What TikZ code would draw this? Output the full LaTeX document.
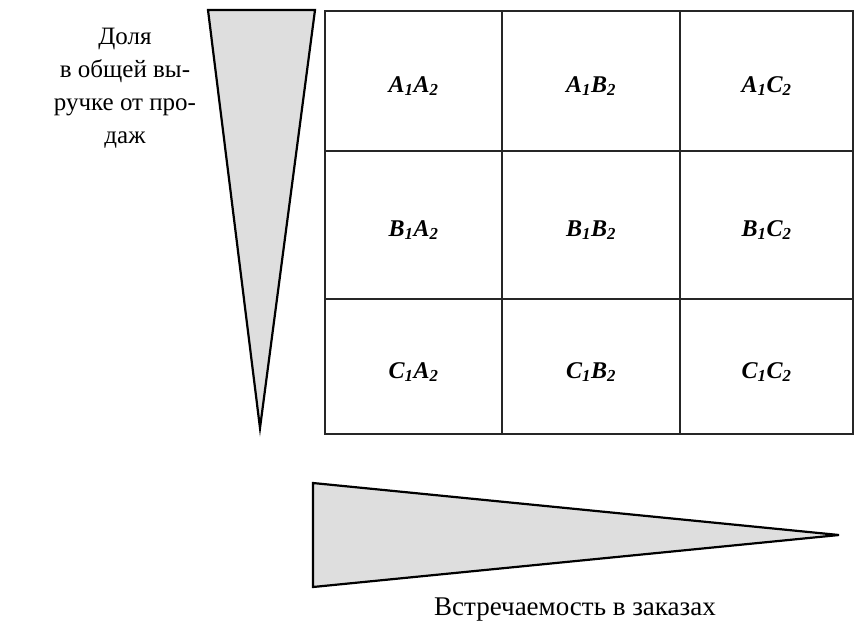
\documentclass[tikz,border=0pt]{standalone}
\usepackage{fontspec}
\setmainfont{Liberation Serif}
\begin{document}
\begin{tikzpicture}[x=1pt,y=-1pt,
  wedge/.style={draw=black,line width=2.2pt,fill=black!13,line join=miter},
  gridline/.style={draw=black!85,line width=1.4pt},
  cell/.style={anchor=base,font=\fontsize{24}{28}\selectfont\bfseries\itshape},
  lbl/.style={font=\fontsize{25}{33}\selectfont,align=center}]
\useasboundingbox (0,0) rectangle (854,633);
% vertical wedge
\coordinate (v1) at (208,10);
\coordinate (v2) at (315,10);
\coordinate (v3) at (260,428);
\path[wedge] (v1) -- (v2) -- (v3) -- cycle;
% horizontal wedge
\coordinate (h1) at (313,483);
\coordinate (h2) at (313,587);
\coordinate (h3) at (839,535);
\path[wedge] (h1) -- (h3) -- (h2) -- cycle;
% grid
\draw[gridline] (325,11) rectangle (853,434);
\draw[gridline] (502,11) -- (502,434);
\draw[gridline] (680,11) -- (680,434);
\draw[gridline] (325,151) -- (853,151);
\draw[gridline] (325,299) -- (853,299);
% cells
\node[cell] (aa) at (413.5,92) {A\textsubscript{1}A\textsubscript{2}};
\node[cell] (ab) at (591,92) {A\textsubscript{1}B\textsubscript{2}};
\node[cell] (ac) at (766.5,92) {A\textsubscript{1}C\textsubscript{2}};
\node[cell] (ba) at (413.5,236) {B\textsubscript{1}A\textsubscript{2}};
\node[cell] (bb) at (591,236) {B\textsubscript{1}B\textsubscript{2}};
\node[cell] (bc) at (766.5,236) {B\textsubscript{1}C\textsubscript{2}};
\node[cell] (ca) at (413.5,378) {C\textsubscript{1}A\textsubscript{2}};
\node[cell] (cb) at (591,378) {C\textsubscript{1}B\textsubscript{2}};
\node[cell] (cc) at (766.5,378) {C\textsubscript{1}C\textsubscript{2}};
% labels
\node[lbl] (share) at (125,88) {Доля\\в общей вы-\\ручке от про-\\даж};
\node[lbl,font=\fontsize{27}{31}\selectfont] (freq) at (575,610) {Встречаемость в заказах};
\end{tikzpicture}
\end{document}
